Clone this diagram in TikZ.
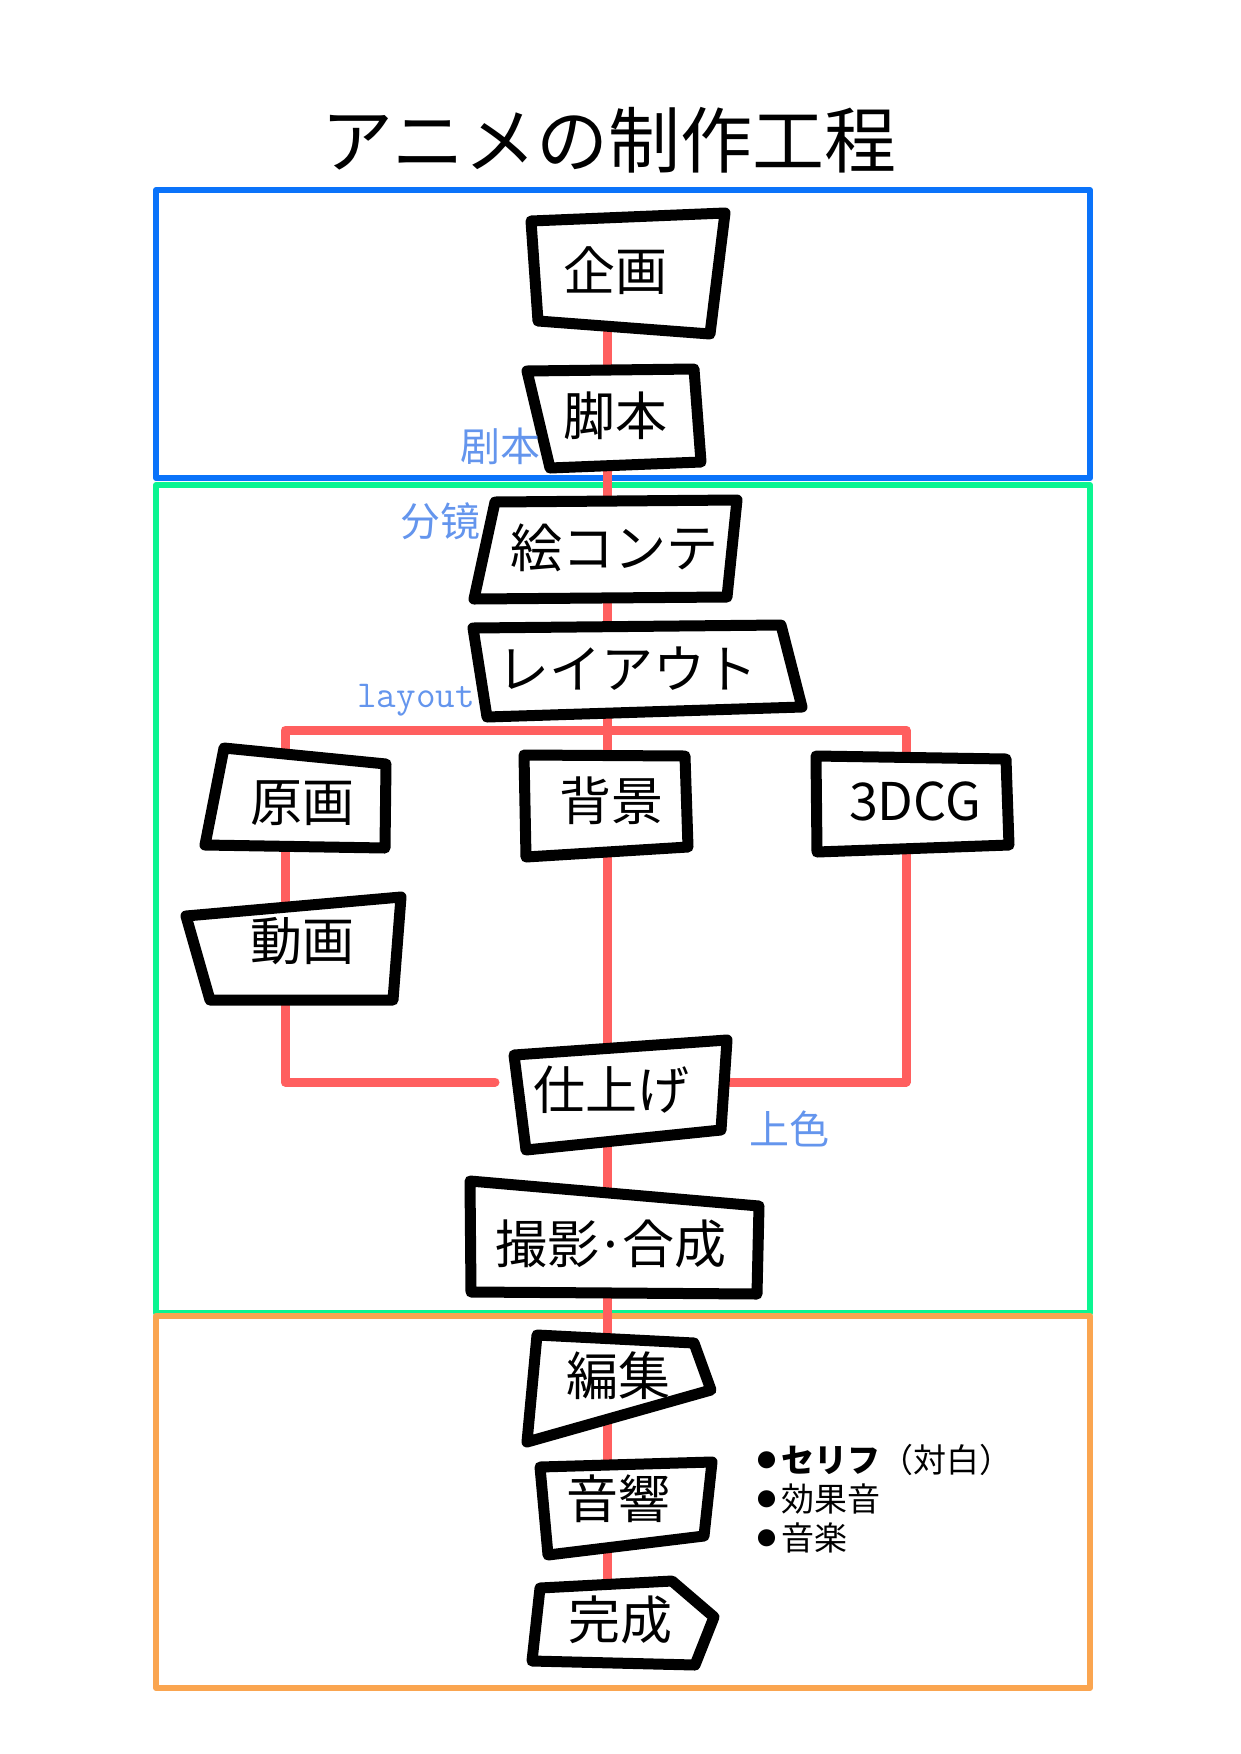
\documentclass[tikz,border=0pt]{standalone}
\usepackage{fontspec}
\setmainfont{Noto Sans CJK JP}
\newfontfamily\scfont{Noto Sans CJK SC}
\usepackage{xcolor}
\definecolor{frameblue}{RGB}{10,115,250}
\definecolor{framegreen}{RGB}{10,245,145}
\definecolor{frameorange}{RGB}{250,165,80}
\definecolor{linkred}{RGB}{255,95,95}
\definecolor{noteblue}{RGB}{100,149,237}
\pgfdeclarelayer{back}
\pgfdeclarelayer{links}
\pgfsetlayers{back,links,main}
\newcommand{\dotmark}{\raisebox{5pt}{\fontsize{19}{19}\selectfont●}\hspace{5pt}}

\begin{document}
\begin{tikzpicture}[x=1pt,y=-1pt,
  box/.style={draw=black,line width=11pt,line join=round,line cap=round,fill=white},
  link/.style={draw=linkred,line width=9pt,line cap=round,line join=round},
  frame/.style={line width=6pt,line join=round},
  word/.style={font=\fontsize{52}{60}\selectfont,inner sep=0pt},
  note/.style={text=noteblue,font=\scfont\fontsize{40}{46}\selectfont,inner sep=0pt},
  item/.style={anchor=west,inner sep=0pt,font=\fontsize{33}{38}\selectfont}]
\useasboundingbox (0,0) rectangle (1240,1754);
\node[font=\fontsize{72}{80}\selectfont] (title) at (609,140) {アニメの制作工程};

\begin{pgfonlayer}{back}
\draw[frame,frameblue] (156,190) rectangle (1090,478);
\draw[frame,framegreen] (156,485) rectangle (1090,1313);
\draw[frame,frameorange] (156,1316) rectangle (1090,1688);
\end{pgfonlayer}

% boxes
\draw[box] (531,221) -- (725,213) -- (710,334) -- (538,321) -- cycle;
\draw[box] (527,371) -- (694,369) -- (701,462) -- (550,468) -- cycle;
\draw[box] (495,502) -- (737,500) -- (727,597) -- (474,599) -- cycle;
\draw[box] (473,628) -- (781,625) -- (802,707) -- (487,717) -- cycle;
\draw[box] (224,748) -- (386,764) -- (385,848) -- (205,845) -- cycle;
\draw[box] (524,755) -- (685,756) -- (688,847) -- (526,857) -- cycle;
\draw[box] (816,756) -- (1006,759) -- (1009,845) -- (817,852) -- cycle;
\draw[box] (186,916) -- (401,897) -- (393,1000) -- (210,1000) -- cycle;
\draw[box] (514,1055) -- (727,1040) -- (721,1130) -- (526,1150) -- cycle;
\draw[box] (470,1181) -- (759,1206) -- (757,1294) -- (471,1292) -- cycle;
\draw[box] (537,1335) -- (694,1343) -- (711,1390) -- (527,1442) -- cycle;
\draw[box] (540,1467) -- (712,1462) -- (704,1536) -- (548,1555) -- cycle;
\draw[box] (540,1588) -- (672,1581) -- (714,1617) -- (695,1665) -- (532,1661) -- cycle;

\node[word] (kikaku) at (615,271) {企画};
\node[word] (kyakuhon) at (615,416) {脚本};
\node[word] (ekonte) at (614,548) {絵コンテ};
\node[word] (layout) at (627,669) {レイアウト};
\node[word] (genga) at (302,803) {原画};
\node[word] (haikei) at (611,801) {背景};
\node[word] (cg) at (915,801) {3DCG};
\node[word] (douga) at (302,941) {動画};
\node[word] (shiage) at (611,1090) {仕上げ};
\node[word] (satsuei) at (611,1244) {撮影\kern-3pt·\kern-3pt合成};
\node[word] (henshu) at (618,1376) {編集};
\node[word] (onkyo) at (618,1499) {音響};
\node[word] (kansei) at (620,1620) {完成};

\begin{pgfonlayer}{links}
\coordinate (spine) at (607,0);
\coordinate (forkL) at (285,730);
\coordinate (forkR) at (906,730);
\coordinate (joinL) at (495,1082);
\coordinate (joinR) at (716,1082);
\draw[link] (kikaku.center -| spine) -- (kansei.center -| spine);
\draw[link] (genga.north -| forkL) -- (forkL) -- (forkR) -- (cg.north -| forkR);
\draw[link] (genga -| forkL) -- (douga -| forkL);
\draw[link] (douga -| forkL) |- (joinL);
\draw[link] (cg -| forkR) |- (joinR);
\end{pgfonlayer}

\node[note] (cnscript) at (500,446) {剧本};
\node[note] (cnboard) at (440,521) {分镜};
\node[note,font=\ttfamily\fontsize{38}{42}\selectfont] (cnlayout) at (416,700) {layout};
\node[note] (cncolor) at (789,1129) {上色};

\node[item] (serifu) at (757,1460) {\dotmark\textbf{セリフ}（対白）};
\node[item] (kouka) at (757,1499) {\dotmark 効果音};
\node[item] (ongaku) at (757,1538) {\dotmark 音楽};
\end{tikzpicture}
\end{document}
